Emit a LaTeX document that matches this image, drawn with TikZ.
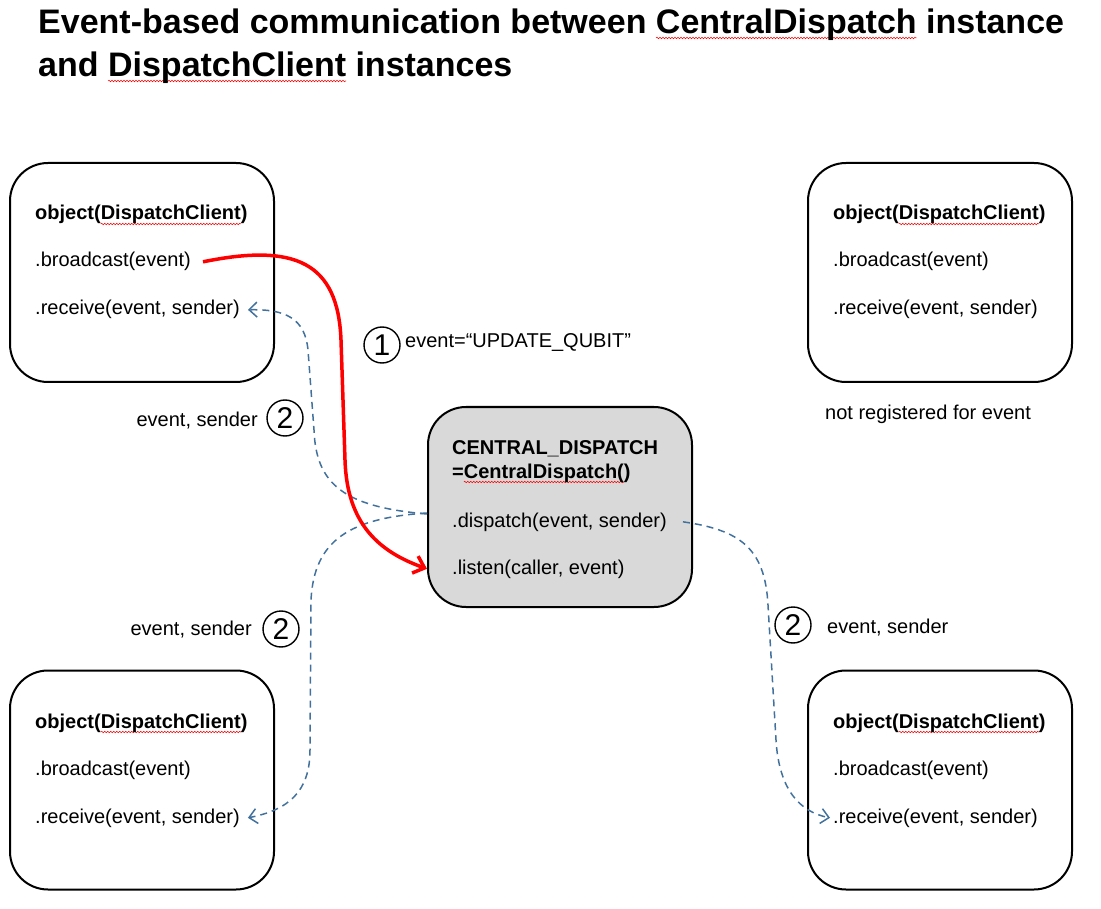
\documentclass[tikz,border=0pt]{standalone}
\usepackage{fontspec}
\setmainfont{Liberation Sans}
\usetikzlibrary{arrows.meta,decorations.pathmorphing}
\definecolor{dashblue}{RGB}{65,113,156}
\definecolor{boxgray}{RGB}{217,217,217}
\newlength\spelllen
\newcommand\spellmark[1]{\settowidth\spelllen{#1}\rlap{\tikz[overlay,baseline=0pt]\draw[red, line width=0.5pt, decorate, decoration={snake, segment length=3pt, amplitude=0.8pt}] (0pt,-4pt) -- (\spelllen,-4pt);}#1}
\begin{document}
\begin{tikzpicture}[x=1pt,y=-1pt,
  box/.style={draw=black, line width=2pt, rounded corners=38pt, minimum width=264pt, minimum height=219pt, inner sep=0pt},
  txt/.style={anchor=base west, inner sep=0pt, font=\fontsize{20}{24}\selectfont},
  btxt/.style={anchor=base west, inner sep=0pt, font=\fontsize{20}{24}\selectfont\bfseries},
  ttl/.style={anchor=base west, inner sep=0pt, font=\fontsize{34}{40}\selectfont\bfseries},
  num/.style={draw=black, circle, line width=1.4pt, minimum size=36pt, inner sep=0pt, font=\fontsize{30}{30}\selectfont},
  flow/.style={draw=dashblue, line width=1.5pt, dash pattern=on 7pt off 5pt, -{Straight Barb[length=8pt,width=15pt]}},
  redflow/.style={draw=red, line width=3.5pt, -{Straight Barb[length=10pt,width=18pt]}}
]
\useasboundingbox (0,0) rectangle (1101,909);

% title
\node[ttl] (title1) at (38,34) {Event-based communication between \spellmark{CentralDispatch} instance};
\node[ttl] (title2) at (38,77) {and \spellmark{DispatchClient} instances};

% client boxes
\node[box] (tl) at (142,272.5) {};
\node[box] (tr) at (940,272.5) {};
\node[box] (bl) at (142,780) {};
\node[box] (br) at (940,780) {};
\node[box, fill=boxgray, minimum height=200pt] (cd) at (560,507) {};

\node[btxt] (tlo) at (35,220) {object(\spellmark{DispatchClient})};
\node[txt]  (tlb) at (35,267) {.broadcast(event)};
\node[txt]  (tlr) at (35,315) {.receive(event, sender)};

\node[btxt] (tro) at (833,220) {object(\spellmark{DispatchClient})};
\node[txt]  (trb) at (833,267) {.broadcast(event)};
\node[txt]  (trr) at (833,315) {.receive(event, sender)};

\node[btxt] (blo) at (35,728) {object(\spellmark{DispatchClient})};
\node[txt]  (blb) at (35,775) {.broadcast(event)};
\node[txt]  (blr) at (35,823) {.receive(event, sender)};

\node[btxt] (bro) at (833,728) {object(\spellmark{DispatchClient})};
\node[txt]  (brb) at (833,775) {.broadcast(event)};
\node[txt]  (brr) at (833,823) {.receive(event, sender)};

\node[btxt] (cdn) at (452,454) {CENTRAL\_DISPATCH};
\node[btxt] (cdc) at (452,478) {=\spellmark{CentralDispatch(})};
\node[txt]  (cdd) at (452,527) {.dispatch(event, sender)};
\node[txt]  (cdl) at (452,574) {.listen(caller, event)};

% labels
\node[num] (n1) at (382,345) {1};
\node[txt] (l1) at (405,348) {event=“UPDATE\_QUBIT”};
\node[num] (n2a) at (285,418) {2};
\node[txt, anchor=base east] (l2a) at (258,427) {event, sender};
\node[num] (n2b) at (281,629) {2};
\node[txt, anchor=base east] (l2b) at (252,635) {event, sender};
\node[num] (n2c) at (793,625) {2};
\node[txt] (l2c) at (827,633) {event, sender};
\node[txt] (nr) at (825,419) {not registered for event};

% dispatch return arrows
\draw[flow] ([yshift=-7pt]cd.west) .. controls (345,507) and (316,485) .. (314,430)
   -- (308,350) .. controls (305,318) and (285,309) .. ([xshift=8pt]tlr.east);
\draw[flow] ([yshift=-6pt]cd.west) .. controls (350,518) and (314,540) .. (311,600)
   -- (310,750) .. controls (310,792) and (288,810) .. ([xshift=8pt]blr.east);
\draw[flow] ([xshift=16pt]cdd.east) .. controls (740,530) and (765,548) .. (768,605)
   -- (776,740) .. controls (779,790) and (800,812) .. ([xshift=-3pt]brr.west);

% broadcast arrow
\draw[redflow] ([xshift=12pt]tlb.east) .. controls (295,243) and (338,262) .. (341,340)
   -- (345,460) .. controls (347,525) and (380,552) .. (cd.west |- cdl.west);
\end{tikzpicture}
\end{document}
